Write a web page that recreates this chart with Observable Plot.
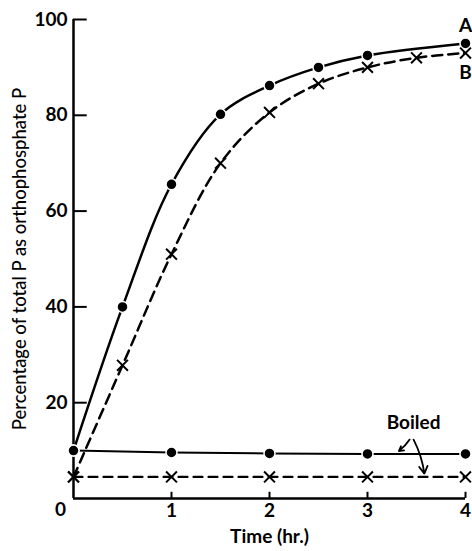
<!DOCTYPE html>
<html><head><meta charset="utf-8">
<script src="https://cdn.jsdelivr.net/npm/d3@7"></script>
<script src="https://cdn.jsdelivr.net/npm/@observablehq/plot@0.6"></script>
<style>body{margin:0;background:#fff} svg{display:block}</style>
</head><body><div id="chart"></div>
<script>
const timeA = [0, 0.5, 1, 1.5, 2, 2.5, 3, 4];
const valuesA = [10, 40, 65.6, 80.2, 86.2, 90, 92.5, 95];
const timeB = [0, 0.5, 1, 1.5, 2, 2.5, 3, 3.5, 4];
const valuesB = [4.5, 27.8, 51, 70, 80.6, 86.6, 90, 92, 93];
const timeBoiled = [0, 1, 2, 3, 4];
const boiledA = [10, 9.6, 9.4, 9.3, 9.3];
const boiledB = [4.5, 4.5, 4.5, 4.5, 4.5];
const xTicks = [1, 2, 3, 4];
const yTicks = [20, 40, 60, 80, 100];
const zeroLabel = [0];
const seriesLabels = ["A", "B"];
const boiledLabel = {text: "Boiled", t: 3.47, v: 15.7};
const boiledArrows = [
  {t1: 3.43, v1: 12.3, t2: 3.32, v2: 9.9},
  {t1: 3.47, v1: 12.3, t2: 3.58, v2: 5.2}
];
const xLabel = "Time (hr.)";
const yLabel = "Percentage of total P as orthophosphate P";

const A = timeA.map((t, i) => ({t, v: valuesA[i]}));
const B = timeB.map((t, i) => ({t, v: valuesB[i]}));
const BA = timeBoiled.map((t, i) => ({t, v: boiledA[i]}));
const BB = timeBoiled.map((t, i) => ({t, v: boiledB[i]}));

const tickLenX = 0.14;  // in x units (~14px)
const tickLenY = 1.3;   // in y units (~6px)

const chart = Plot.plot({
  width: 472, height: 551,
  marginLeft: 73, marginRight: 7, marginTop: 19, marginBottom: 53,
  style: {fontFamily: "Lato", fontSize: "19px", color: "black", background: "white"},
  x: {domain: [0, 4], axis: null},
  y: {domain: [0, 100], axis: null},
  marks: [
    Plot.ruleX([0], {y1: 0, y2: 100, strokeWidth: 2.5}),
    Plot.ruleY([0], {x1: 0, x2: 4, strokeWidth: 2.5}),
    Plot.ruleY(yTicks, {y: d => d, x1: 0, x2: tickLenX, strokeWidth: 2}),
    Plot.ruleX(xTicks, {x: d => d, y1: 0, y2: tickLenY, strokeWidth: 2}),
    Plot.axisY(yTicks, {tickSize: 0, tickPadding: 6, fontWeight: "bold", fontSize: 19, label: null}),
    Plot.axisX(xTicks, {tickSize: 0, tickPadding: 5, fontWeight: "bold", fontSize: 19, label: null}),
    Plot.text(zeroLabel, {x: 0, y: d => d, text: d => String(d), dx: -13, dy: 11, fontWeight: "bold", fontSize: 19}),
    Plot.text([xLabel], {frameAnchor: "bottom", dy: 44, fontWeight: "bold", fontSize: 19}),
    Plot.text([yLabel], {frameAnchor: "left", textAnchor: "middle", dx: -53, rotate: -90, fontSize: 18.5, fontWeight: 500}),
    Plot.line(BA, {x: "t", y: "v", strokeWidth: 2}),
    Plot.line(BB, {x: "t", y: "v", strokeWidth: 2.2, strokeDasharray: "9,6"}),
    Plot.line(A, {x: "t", y: "v", curve: "catmull-rom", strokeWidth: 2.5}),
    Plot.line(B, {x: "t", y: "v", curve: "catmull-rom", strokeWidth: 2.5, strokeDasharray: "10,6"}),
    Plot.dot(BA, {x: "t", y: "v", r: 5.5, fill: "black", stroke: "white", strokeWidth: 1.5}),
    Plot.dot(BB, {x: "t", y: "v", r: 5, symbol: "times", stroke: "black", strokeWidth: 2}),
    Plot.dot(A, {x: "t", y: "v", r: 5.5, fill: "black", stroke: "white", strokeWidth: 1.5}),
    Plot.dot(B, {x: "t", y: "v", r: 5, symbol: "times", stroke: "black", strokeWidth: 2}),
    Plot.text([seriesLabels[0]], {x: 4, y: valuesA[valuesA.length - 1], dy: -18, fontWeight: "bold", fontSize: 19}),
    Plot.text([seriesLabels[1]], {x: 4, y: valuesB[valuesB.length - 1], dy: 20, fontWeight: "bold", fontSize: 19}),
    Plot.text([boiledLabel], {x: "t", y: "v", text: "text", fontWeight: "bold", fontSize: 19}),
    Plot.arrow(boiledArrows, {x1: "t1", y1: "v1", x2: "t2", y2: "v2", bend: 10, headLength: 7, strokeWidth: 1.8})
  ]
});
document.getElementById("chart").appendChild(chart);
</script>
</body></html>
